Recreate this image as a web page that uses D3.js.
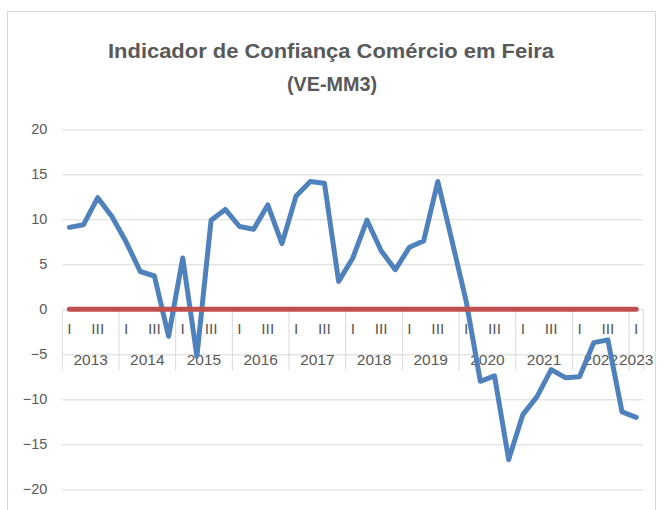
<!DOCTYPE html>
<html>
<head>
<meta charset="utf-8">
<script src="https://cdn.jsdelivr.net/npm/d3@7"></script>
<style>
  body { margin: 0; background: #fff; }
  text { font-family: "Liberation Sans", Arial, sans-serif; }
</style>
</head>
<body>
<svg id="chart" width="664" height="510"></svg>
<script>
// dados
const years = ["2013", "2014", "2015", "2016", "2017", "2018", "2019", "2020", "2021", "2022", "2023"];
const quarters = ["I", "II", "III", "IV"];
const quarterLabels = ["I", "", "III", ""];
const values = [9.1, 9.4, 12.4, 10.3, 7.5, 4.2, 3.7, -3.0, 5.7, -5.2,
  9.9, 11.1, 9.2, 8.9, 11.6, 7.3, 12.6, 14.2, 14.0, 3.1,
  5.7, 9.9, 6.5, 4.4, 6.9, 7.6, 14.2, 7.6, 0.9, -8.0,
  -7.4, -16.7, -11.7, -9.7, -6.7, -7.6, -7.5, -3.7, -3.4, -11.4,
  -12.0];
const zeroLine = [0, 0, 0, 0, 0, 0, 0, 0, 0, 0,
  0, 0, 0, 0, 0, 0, 0, 0, 0, 0,
  0, 0, 0, 0, 0, 0, 0, 0, 0, 0,
  0, 0, 0, 0, 0, 0, 0, 0, 0, 0,
  0];
const yTicks = [20, 15, 10, 5, 0, -5, -10, -15, -20];
const titleLines = ["Indicador de Confiança Comércio em Feira", "(VE-MM3)"];

// períodos: ano + trimestre (termina em 2023 I)
const periods = [];
years.forEach(yr => quarters.forEach((q, i) => {
  if (periods.length < values.length) periods.push({ key: yr + "-" + q, year: yr, q: i });
}));

const svg = d3.select("#chart");
const plotLeft = 62.3, plotRight = 643.3, plotTop = 129.3, plotBottom = 489.3;
const grey = "#595959";

// moldura do gráfico
svg.append("rect")
  .attr("x", 7.5).attr("y", 11.5)
  .attr("width", 648).attr("height", 520)
  .attr("fill", "#fff")
  .attr("stroke", "#d9d9d9");

// título
svg.append("text")
  .attr("x", 331).attr("y", 58)
  .attr("text-anchor", "middle")
  .attr("font-size", 21).attr("font-weight", "bold")
  .attr("fill", grey)
  .attr("textLength", 446).attr("lengthAdjust", "spacingAndGlyphs")
  .text(titleLines[0]);
svg.append("text")
  .attr("x", 332).attr("y", 91)
  .attr("text-anchor", "middle")
  .attr("font-size", 21).attr("font-weight", "bold")
  .attr("fill", grey)
  .attr("textLength", 90).attr("lengthAdjust", "spacingAndGlyphs")
  .text(titleLines[1]);

const x = d3.scaleBand().domain(periods.map(d => d.key)).range([plotLeft, plotRight]);
const y = d3.scaleLinear().domain([-20, 20]).range([plotBottom, plotTop]);

// eixo y + grade
const yAxis = svg.append("g")
  .attr("transform", `translate(${plotLeft},0)`)
  .call(d3.axisLeft(y).tickValues(yTicks).tickSize(-(plotRight - plotLeft)).tickPadding(15));
yAxis.select(".domain").remove();
yAxis.selectAll("line").attr("stroke", "#d9d9d9").attr("stroke-width", 1);
yAxis.selectAll("text").attr("fill", grey).attr("font-size", 14.5)
  .attr("font-family", "Liberation Sans, Arial, sans-serif");

// eixo de categorias (dois níveis)
const y0 = y(0);
const cat = svg.append("g");
const yearStarts = periods.filter(d => d.q === 0);
cat.selectAll("line.sep")
  .data(yearStarts.map(d => x(d.key)).concat([plotRight]))
  .join("line")
  .attr("class", "sep")
  .attr("x1", d => d).attr("x2", d => d)
  .attr("y1", y0).attr("y2", y0 + 61)
  .attr("stroke", "#d9d9d9");

cat.selectAll("text.q")
  .data(periods.filter(d => quarterLabels[d.q] !== ""))
  .join("text")
  .attr("class", "q")
  .attr("x", d => x(d.key) + x.bandwidth() / 2)
  .attr("y", y0 + 25)
  .attr("text-anchor", "middle")
  .attr("font-size", 15.5).attr("fill", grey)
  .text(d => quarterLabels[d.q]);

cat.selectAll("text.yr")
  .data(years)
  .join("text")
  .attr("class", "yr")
  .attr("x", yr => {
    const ks = periods.filter(d => d.year === yr);
    return (x(ks[0].key) + x(ks[ks.length - 1].key) + x.bandwidth()) / 2;
  })
  .attr("y", y0 + 56)
  .attr("text-anchor", "middle")
  .attr("font-size", 15.5).attr("fill", grey)
  .text(d => d);

// séries
const line = d3.line()
  .x((d, i) => x(periods[i].key) + x.bandwidth() / 2)
  .y(d => y(d))
  .curve(d3.curveLinear);

svg.append("path")
  .datum(values)
  .attr("d", line)
  .attr("fill", "none")
  .attr("stroke", "#4f81bd")
  .attr("stroke-width", 5)
  .attr("stroke-linejoin", "round")
  .attr("stroke-linecap", "round");

svg.append("path")
  .datum(zeroLine)
  .attr("d", line)
  .attr("fill", "none")
  .attr("stroke", "#c0504d")
  .attr("stroke-width", 5)
  .attr("stroke-linecap", "round");
</script>
</body>
</html>
